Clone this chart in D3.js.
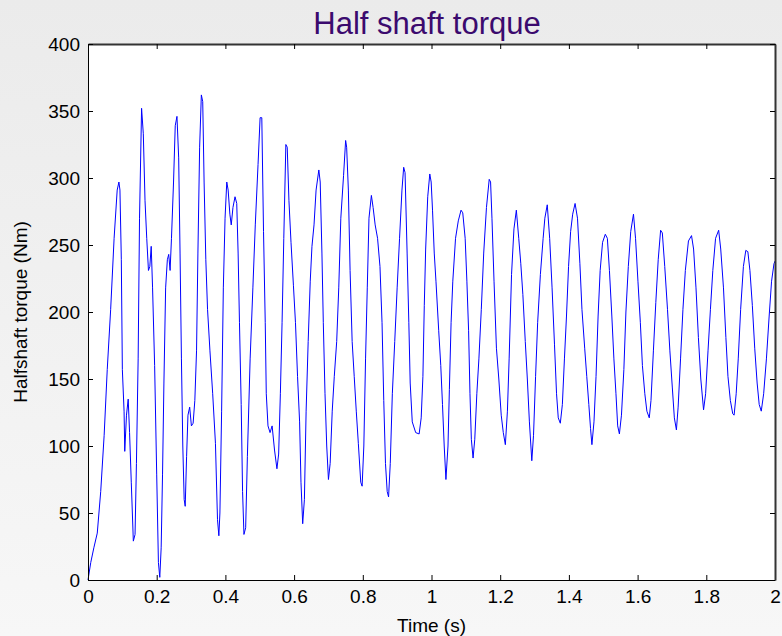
<!DOCTYPE html>
<html>
<head>
<meta charset="utf-8">
<script src="https://cdn.jsdelivr.net/npm/d3@7"></script>
<style>
  html, body { margin: 0; padding: 0; }
  body { width: 782px; height: 636px; overflow: hidden; }
  svg { display: block; font-family: "Liberation Sans", Arial, sans-serif; }
</style>
</head>
<body>
<svg width="782" height="636"></svg>
<script>
// time (s) and torque (Nm)
var timeS = [
  0, 0.008, 0.017, 0.027, 0.037, 0.047, 0.056, 0.066, 0.076, 0.085, 0.090,
  0.093, 0.097, 0.100, 0.105, 0.107, 0.112, 0.117, 0.121, 0.126, 0.132,
  0.137, 0.141, 0.146, 0.150, 0.156, 0.161, 0.166, 0.171, 0.176, 0.180,
  0.184, 0.188, 0.194, 0.200, 0.205, 0.209, 0.213, 0.217, 0.221, 0.226,
  0.231, 0.235, 0.239, 0.243, 0.249, 0.254, 0.259, 0.264, 0.268, 0.272,
  0.276, 0.280, 0.283, 0.287, 0.291, 0.296, 0.301, 0.306, 0.311, 0.316,
  0.320, 0.325, 0.330, 0.334, 0.338, 0.343, 0.348, 0.355, 0.363, 0.371,
  0.377, 0.381, 0.384, 0.389, 0.394, 0.399, 0.404, 0.408, 0.413, 0.417,
  0.422, 0.428, 0.433, 0.437, 0.441, 0.446, 0.450, 0.454, 0.459, 0.464,
  0.472, 0.480, 0.487, 0.495, 0.501, 0.506, 0.511, 0.516, 0.519, 0.524,
  0.530, 0.536, 0.543, 0.550, 0.555, 0.560, 0.565, 0.570, 0.576, 0.580,
  0.585, 0.591, 0.598, 0.604, 0.610, 0.616, 0.620, 0.625, 0.630, 0.635,
  0.641, 0.647, 0.652, 0.658, 0.664, 0.672, 0.676, 0.681, 0.685, 0.690,
  0.695, 0.700, 0.705, 0.711, 0.717, 0.724, 0.730, 0.736, 0.744, 0.750,
  0.753, 0.758, 0.763, 0.769, 0.775, 0.781, 0.787, 0.794, 0.798, 0.803,
  0.808, 0.813, 0.818, 0.825, 0.830, 0.836, 0.843, 0.850, 0.856, 0.861,
  0.866, 0.871, 0.875, 0.880, 0.886, 0.893, 0.900, 0.907, 0.914, 0.919,
  0.923, 0.929, 0.934, 0.938, 0.944, 0.954, 0.964, 0.970, 0.975, 0.979,
  0.983, 0.989, 0.995, 0.999, 1.003, 1.008, 1.013, 1.021, 1.027, 1.032,
  1.037, 1.042, 1.048, 1.052, 1.057, 1.062, 1.070, 1.078, 1.086, 1.091,
  1.098, 1.103, 1.108, 1.112, 1.116, 1.121, 1.126, 1.132, 1.138, 1.145,
  1.152, 1.160, 1.168, 1.172, 1.176, 1.182, 1.189, 1.196, 1.203, 1.209,
  1.215, 1.221, 1.226, 1.233, 1.240, 1.247, 1.254, 1.260, 1.266, 1.273,
  1.279, 1.285, 1.292, 1.297, 1.303, 1.309, 1.317, 1.325, 1.330, 1.337,
  1.344, 1.351, 1.358, 1.364, 1.369, 1.375, 1.381, 1.387, 1.393, 1.399,
  1.405, 1.411, 1.418, 1.425, 1.432, 1.438, 1.446, 1.452, 1.458, 1.463,
  1.467, 1.473, 1.479, 1.485, 1.491, 1.498, 1.506, 1.512, 1.518, 1.525,
  1.531, 1.537, 1.542, 1.547, 1.553, 1.560, 1.566, 1.573, 1.580, 1.588,
  1.594, 1.601, 1.608, 1.614, 1.621, 1.627, 1.634, 1.639, 1.646, 1.653,
  1.660, 1.667, 1.672, 1.679, 1.687, 1.694, 1.701, 1.707, 1.713, 1.718,
  1.725, 1.732, 1.739, 1.748, 1.757, 1.763, 1.770, 1.777, 1.784, 1.792,
  1.798, 1.805, 1.812, 1.819, 1.827, 1.836, 1.842, 1.850, 1.857, 1.863,
  1.870, 1.877, 1.881, 1.887, 1.893, 1.900, 1.908, 1.915, 1.921, 1.927,
  1.934, 1.941, 1.948, 1.954, 1.960, 1.967, 1.975, 1.983, 1.990, 1.997,
  2.0
];

var torqueNm = [
  0, 13, 24, 35, 66, 108, 157, 202, 255, 291, 297,
  291, 239, 157, 126, 96, 123, 135, 110, 73, 29,
  34, 87, 165, 270, 352, 333, 283, 255, 231, 234,
  249, 218, 160, 79, 13, 2, 24, 79, 147, 218,
  239, 243, 231, 255, 297, 339, 346, 315, 244, 165,
  100, 60, 55, 92, 123, 129, 115, 117, 134, 171,
  244, 323, 362, 357, 297, 239, 202, 171, 139, 102,
  45, 33, 50, 126, 218, 270, 297, 291, 273, 265,
  278, 286, 281, 244, 192, 131, 66, 34, 39, 92,
  165, 218, 265, 310, 345, 345, 260, 192, 139, 115,
  110, 115, 97, 83, 94, 139, 192, 255, 325, 323,
  283, 252, 220, 192, 152, 118, 73, 42, 60, 126,
  178, 223, 249, 265, 291, 306, 297, 244, 192, 139,
  100, 75, 87, 126, 152, 178, 218, 270, 302, 328,
  323, 291, 231, 178, 152, 126, 102, 73, 70, 100,
  165, 218, 270, 287, 278, 265, 255, 234, 192, 134,
  87, 66, 62, 87, 139, 178, 218, 255, 291, 308,
  304, 244, 192, 147, 118, 110, 109, 121, 152, 205,
  247, 286, 303, 297, 276, 244, 223, 186, 160, 131,
  100, 75, 100, 142, 192, 223, 255, 268, 276, 274,
  255, 223, 186, 139, 105, 91, 105, 139, 165, 202,
  244, 278, 299, 297, 270, 223, 173, 150, 123, 110,
  101, 126, 165, 228, 262, 276, 255, 236, 213, 178,
  150, 118, 89, 108, 152, 192, 228, 255, 270, 280,
  255, 218, 176, 139, 121, 117, 131, 165, 197, 234,
  260, 273, 281, 270, 236, 202, 173, 152, 131, 113,
  101, 118, 152, 197, 231, 252, 258, 255, 231, 197,
  165, 139, 115, 109, 123, 157, 200, 234, 260, 273,
  255, 223, 192, 160, 139, 126, 121, 134, 171, 207,
  239, 261, 259, 234, 202, 171, 144, 121, 112, 129,
  165, 202, 231, 253, 257, 247, 218, 181, 150, 127,
  139, 171, 202, 231, 255, 261, 247, 218, 181, 152,
  134, 124, 123, 139, 165, 202, 234, 246, 245, 231,
  205, 173, 147, 131, 126, 139, 165, 197, 223, 236,
  238
];

var xTicks = [0, 0.2, 0.4, 0.6, 0.8, 1, 1.2, 1.4, 1.6, 1.8, 2];
var yTicks = [0, 50, 100, 150, 200, 250, 300, 350, 400];

var width = 782;
var height = 636;
var margin = {left: 88, right: 7, top: 44, bottom: 56};

var xScale = d3.scaleLinear().domain([0, 2]).range([margin.left, width - margin.right]);
var yScale = d3.scaleLinear().domain([0, 400]).range([height - margin.bottom, margin.top]);

var svg = d3.select('svg');

// figure background
var grad = svg.append('defs').append('linearGradient')
  .attr('id', 'bg')
  .attr('x1', 0).attr('y1', 0).attr('x2', 0).attr('y2', 1);
grad.append('stop').attr('offset', '0%').attr('stop-color', '#ebebeb');
grad.append('stop').attr('offset', '100%').attr('stop-color', '#f7f7f7');

svg.append('rect')
  .attr('width', width)
  .attr('height', height)
  .attr('fill', 'url(#bg)');

// plot area
svg.append('rect')
  .attr('x', margin.left)
  .attr('y', margin.top)
  .attr('width', width - margin.left - margin.right)
  .attr('height', height - margin.top - margin.bottom)
  .attr('fill', '#ffffff');

var data = timeS.map(function (t, i) { return {t: t, v: torqueNm[i]}; });

var line = d3.line()
  .x(function (d) { return xScale(d.t); })
  .y(function (d) { return yScale(d.v); });

svg.append('path')
  .datum(data)
  .attr('fill', 'none')
  .attr('stroke', '#0000ff')
  .attr('stroke-width', 1)
  .attr('d', line);

// inward ticks on all four sides, labels only on bottom/left
var bottomAxis = d3.axisBottom(xScale).tickValues(xTicks).tickSizeInner(-5).tickSizeOuter(0)
  .tickPadding(10).tickFormat(d3.format('~g'));
var topAxis = d3.axisTop(xScale).tickValues(xTicks).tickSizeInner(-5).tickSizeOuter(0).tickFormat('');
var leftAxis = d3.axisLeft(yScale).tickValues(yTicks).tickSizeInner(-5).tickSizeOuter(0).tickPadding(8);
var rightAxis = d3.axisRight(yScale).tickValues(yTicks).tickSizeInner(-5).tickSizeOuter(0).tickFormat('');

function styleAxis(g, w, c) {
  g.select('.domain').attr('stroke', c).attr('stroke-width', w);
  g.selectAll('.tick line').attr('stroke', '#000');
  g.selectAll('.tick text').attr('fill', '#000').style('font-size', '19px')
    .style('font-family', '"Liberation Sans", Arial, sans-serif');
}

svg.append('g')
  .attr('transform', 'translate(0,' + (height - margin.bottom) + ')')
  .call(bottomAxis)
  .call(styleAxis, 1, '#000');

svg.append('g')
  .attr('transform', 'translate(0,' + margin.top + ')')
  .call(topAxis)
  .call(styleAxis, 2, '#333');

svg.append('g')
  .attr('transform', 'translate(' + margin.left + ',0)')
  .call(leftAxis)
  .call(styleAxis, 1, '#000');

svg.append('g')
  .attr('transform', 'translate(' + (width - margin.right) + ',0)')
  .call(rightAxis)
  .call(styleAxis, 2, '#333');

// title
svg.append('text')
  .attr('x', 427)
  .attr('y', 34)
  .attr('text-anchor', 'middle')
  .attr('fill', '#3b0a6e')
  .style('font-size', '31px')
  .text('Half shaft torque');

// text label for the x axis
svg.append('text')
  .attr('x', (margin.left + width - margin.right) / 2)
  .attr('y', 632)
  .attr('text-anchor', 'middle')
  .style('font-size', '19px')
  .text('Time (s)');

// text label for the y axis
svg.append('text')
  .attr('transform', 'rotate(-90)')
  .attr('x', -312)
  .attr('y', 27)
  .attr('text-anchor', 'middle')
  .style('font-size', '19px')
  .text('Halfshaft torque (Nm)');
</script>
</body>
</html>
